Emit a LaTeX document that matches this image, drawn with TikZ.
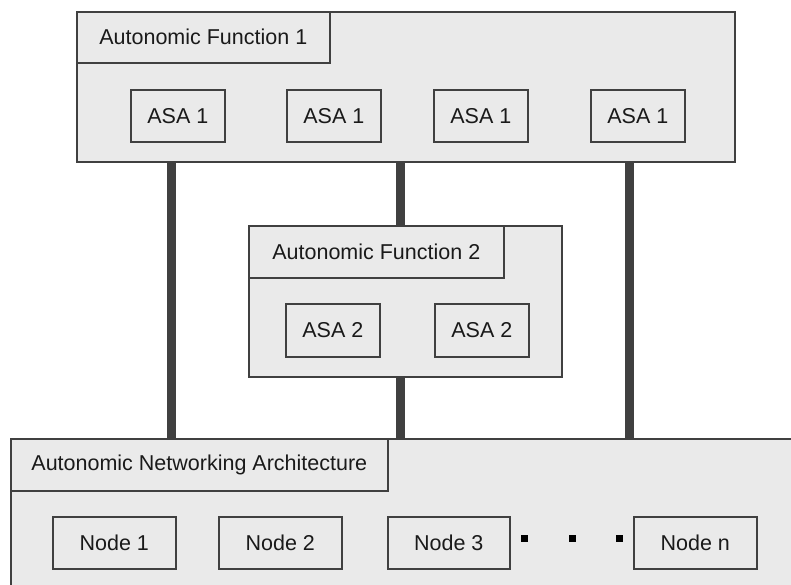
\documentclass[tikz,border=0pt]{standalone}
\usepackage{fontspec}
\setmainfont{Liberation Sans}
\definecolor{boxfill}{HTML}{EAEAEA}
\definecolor{boxline}{HTML}{404040}
\definecolor{busline}{HTML}{404040}
\definecolor{textcol}{HTML}{1A1A1A}
\begin{document}
\begin{tikzpicture}[x=1pt,y=-1pt,
  box/.style={draw=boxline, fill=boxfill, line width=1.6pt, anchor=north west,
    inner sep=0pt, font=\fontsize{21.5}{24}\selectfont, text=textcol},
  bus/.style={draw=busline, line width=9pt},
  dotsq/.style={fill=black}]
\useasboundingbox (0,0) rectangle (791,585);
\clip (0,0) rectangle (791,585);
\fill[white] (0,0) rectangle (791,585);

% Autonomic Function 1
\node[box, minimum width=658pt, minimum height=150pt] (af1) at (76,11) {};
\node[box, minimum width=253pt, minimum height=51pt] (af1l) at (76,11) {Autonomic Function 1};
\node[box, minimum width=94pt, minimum height=52pt] (a11) at (130,89) {ASA 1};
\node[box, minimum width=94pt, minimum height=52pt] (a12) at (286,89) {ASA 1};
\node[box, minimum width=94pt, minimum height=52pt] (a13) at (433,89) {ASA 1};
\node[box, minimum width=94pt, minimum height=52pt] (a14) at (590,89) {ASA 1};

% Autonomic Function 2
\node[box, minimum width=313pt, minimum height=151pt] (af2) at (248,225) {};
\node[box, minimum width=255pt, minimum height=52pt] (af2l) at (248,225) {Autonomic Function 2};
\node[box, minimum width=94pt, minimum height=53pt] (a21) at (285,303) {ASA 2};
\node[box, minimum width=94pt, minimum height=53pt] (a22) at (434,303) {ASA 2};

% Autonomic Networking Architecture
\node[box, minimum width=800pt, minimum height=170pt] (ana) at (10,438) {};
\node[box, minimum width=377pt, minimum height=52pt] (anal) at (10,438) {Autonomic Networking Architecture};
\node[box, minimum width=123pt, minimum height=52pt] (n1) at (52,516) {Node 1};
\node[box, minimum width=123pt, minimum height=52pt] (n2) at (218,516) {Node 2};
\node[box, minimum width=122pt, minimum height=52pt] (n3) at (387,516) {Node 3};
\node[box, minimum width=123pt, minimum height=52pt] (nn) at (633,516) {Node n};

% ellipsis squares
\fill[dotsq] (520.5,534.5) rectangle ++(7,7);
\fill[dotsq] (568.5,534.5) rectangle ++(7,7);
\fill[dotsq] (615.5,534.5) rectangle ++(7,7);

% buses
\coordinate (l1) at (171,0);
\coordinate (l2) at (400,0);
\coordinate (l3) at (629,0);
\draw[bus] (af1.south -| l1) -- (ana.north -| l1);
\draw[bus] (af1.south -| l2) -- (af2.north -| l2);
\draw[bus] (af2.south -| l2) -- (ana.north -| l2);
\draw[bus] (af1.south -| l3) -- (ana.north -| l3);
\end{tikzpicture}
\end{document}
